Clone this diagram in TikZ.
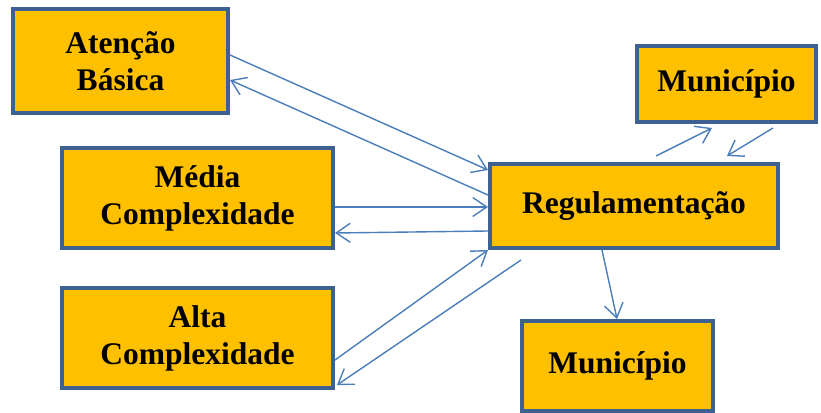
\documentclass[tikz,border=0pt]{standalone}
\usepackage{fontspec}
\setmainfont{Liberation Serif}
\usetikzlibrary{arrows.meta,calc}
\definecolor{boxfill}{HTML}{FFC000}
\definecolor{boxline}{HTML}{3E6191}
\definecolor{arrline}{HTML}{4A7EBB}
\begin{document}
\begin{tikzpicture}[x=1pt,y=-1pt,
  box/.style={draw=boxline,fill=boxfill,line width=4pt,rectangle,inner sep=0pt,
    align=center,font=\bfseries\fontsize{31.5}{37}\selectfont},
  conn/.style={draw=arrline,line width=1.4pt,-{Straight Barb[length=14pt,width=19pt,line width=1.4pt]}}]
\useasboundingbox (0,0) rectangle (821,412);
\node[box,minimum width=215pt,minimum height=104pt] (ab) at (120.5,61) {Atenção\\Básica};
\node[box,minimum width=271pt,minimum height=100pt] (mc) at (197.5,198) {Média\\Complexidade};
\node[box,minimum width=271pt,minimum height=100pt] (ac) at (197.5,338) {Alta\\Complexidade};
\node[box,minimum width=288pt,minimum height=84pt] (reg) at (634,206) {Regulamentação};
\node[box,minimum width=179pt,minimum height=76pt] (mt) at (726.5,84) {Município};
\node[box,minimum width=191pt,minimum height=90pt] (mb) at (617.5,366) {Município};
\coordinate (r6) at (521,260);
\coordinate (u1) at (656,156);
\coordinate (u2) at (712,128);
\coordinate (d1) at (773,128);
\coordinate (d2) at (727,156);
\draw[conn] ([yshift=6pt]ab.east) -- ([yshift=36pt]reg.west);
\draw[conn] ([yshift=11pt]reg.west) -- ([yshift=-19pt]ab.east);
\draw[conn] ([yshift=-9pt]mc.east) -- ([yshift=-1pt]reg.west);
\draw[conn] ([yshift=-25pt]reg.west) -- ([yshift=-35pt]mc.east);
\draw[conn] ([yshift=-22pt]ac.east) -- (reg.south west);
\draw[conn] (r6) -- ([xshift=2pt,yshift=-47pt]ac.east);
\draw[conn] ([xshift=-32pt]reg.south) -- ([xshift=-0.5pt]mb.north);
\draw[conn] (u1) -- (u2);
\draw[conn] (d1) -- (d2);
\end{tikzpicture}
\end{document}
